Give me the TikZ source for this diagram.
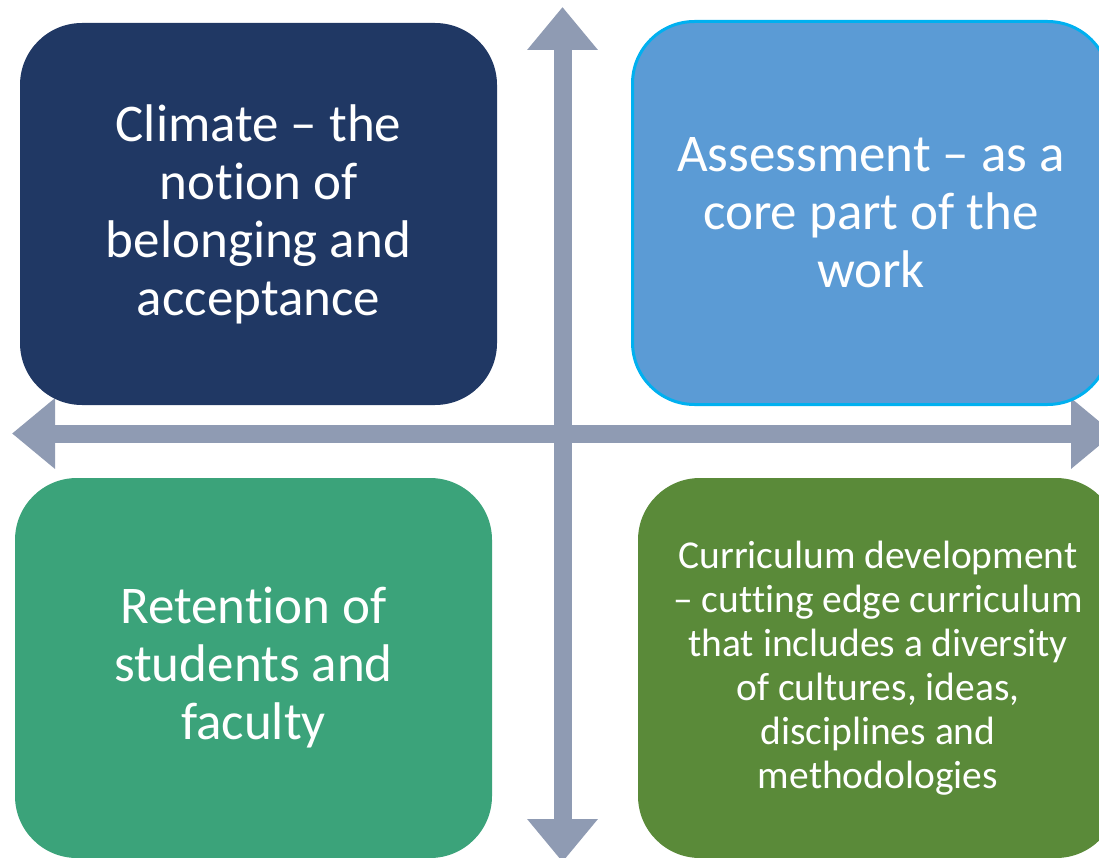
\documentclass[tikz,border=0pt]{standalone}
\usepackage{fontspec}
\setmainfont{Carlito}[Ligatures={TeX,NoCommon}]
\usepackage{tikz}
\usetikzlibrary{arrows.meta}

\definecolor{navy}{HTML}{203864}
\definecolor{skyblue}{HTML}{5B9BD5}
\definecolor{cyanline}{HTML}{00B0F0}
\definecolor{seagreen}{HTML}{3BA37A}
\definecolor{leafgreen}{HTML}{5A8A39}
\definecolor{axisgray}{HTML}{8F9BB3}

\begin{document}
\begin{tikzpicture}[x=1pt, y=-1pt]

\useasboundingbox (0,0) rectangle (1099,858);
\clip (0,0) rectangle (1099,858);

% Ejes
\coordinate (arriba) at (562.5, 7);
\coordinate (abajo) at (562.5, 862);
\coordinate (izq) at (12, 433.5);
\coordinate (der) at (1114, 433.5);

\begin{scope}[line width=18pt, axisgray, arrows={Triangle[width=68pt,length=43pt]-Triangle[width=68pt,length=43pt]}]
	\draw (abajo) -- (arriba) ;
	\draw (izq) -- (der) ;
\end{scope}

\path [every node/.style={rounded corners=62pt, text=white, align=center, inner sep=0pt, outer sep=0pt}]
  node[fill=navy, minimum width=477pt, minimum height=382pt, font=\fontsize{53}{58}\selectfont] (clima) at (258.5, 214)
    {Climate – the\\ notion of\\ belonging and\\ acceptance}
  node[fill=skyblue, draw=cyanline, line width=3pt, minimum width=477pt, minimum height=383pt, font=\fontsize{53}{58}\selectfont] (evaluacion) at (871, 213)
    {Assessment – as a\\ core part of the\\ work}
  node[fill=seagreen, minimum width=477pt, minimum height=380pt, font=\fontsize{53}{58}\selectfont] (retencion) at (253.5, 668)
    {Retention of\\ students and\\ faculty}
  node[fill=leafgreen, minimum width=480pt, minimum height=380pt, font=\fontsize{39.5}{44}\selectfont] (curriculo) at (878, 668)
    {Curriculum development\\ – cutting edge curriculum\\ that includes a diversity\\ of cultures, ideas,\\ disciplines and\\ methodologies};

\end{tikzpicture}
\end{document}
